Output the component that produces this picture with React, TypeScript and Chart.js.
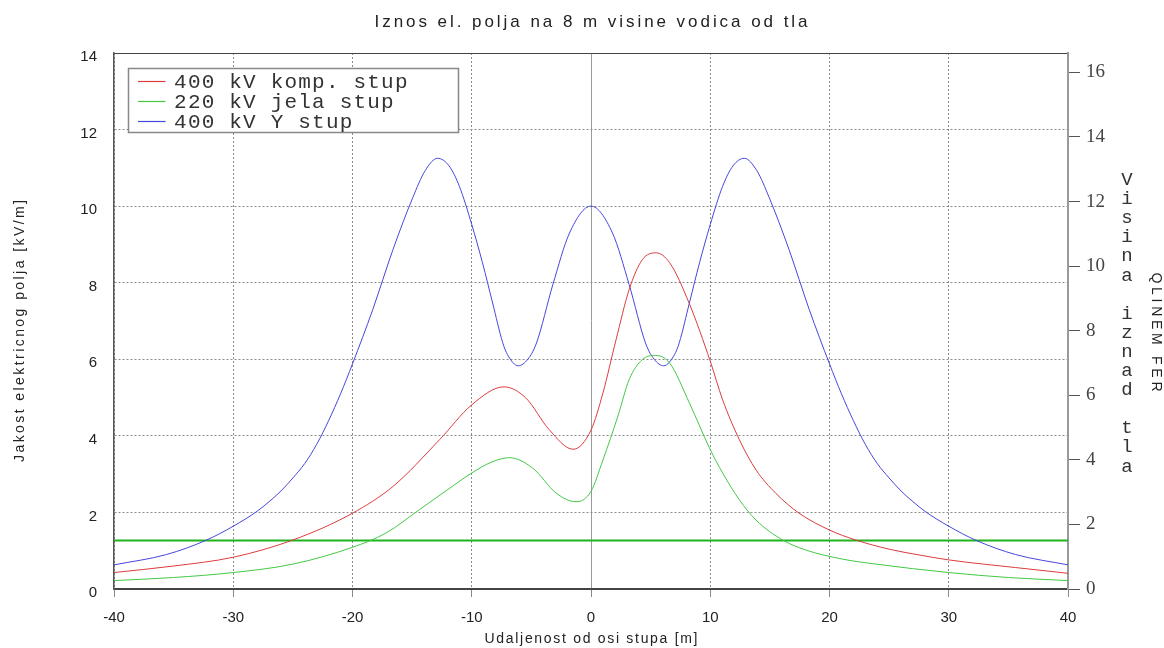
import { useEffect, useRef } from "react";
import { Chart, registerables } from "chart.js";

Chart.register(...registerables);

// ---------- texts ----------
const TITLE = "Iznos el. polja na 8 m visine vodica od tla";
const X_TITLE = "Udaljenost od osi stupa [m]";
const Y_TITLE = "Jakost elektricnog polja [kV/m]";
const Y2_TITLE = "Visina iznad tla";
const SIDE_NOTE = "QLINEM FER";
const SERIES_NAMES = ["400 kV komp. stup", "220 kV jela stup", "400 kV Y stup"];

// ---------- data ----------
// 400 kV komp. stup (red)
const redX = [-40, -35, -30, -25, -20, -16.6, -12.7, -10, -7.3, -5.5, -3.5, -1.5, 0, 1.0, 2.1, 3.2, 4.3, 5.46, 6.6, 8.25, 10, 11.04, 12.44, 13.84, 15.5, 17.45, 20, 22.2, 25, 27.5, 30, 35.6, 40];
const redY = [0.43, 0.6, 0.83, 1.28, 1.98, 2.68, 3.9, 4.81, 5.28, 5.0, 4.16, 3.65, 4.15, 5.12, 6.51, 7.82, 8.6, 8.78, 8.52, 7.45, 5.95, 4.94, 3.9, 3.11, 2.5, 1.98, 1.54, 1.28, 1.04, 0.89, 0.76, 0.56, 0.41];

// 220 kV jela stup (green)
const greenX = [-40, -35, -30, -25, -20, -17.2, -14.4, -12, -10, -8.3, -6.84, -4.9, -2.9, -1.25, 0, 1.0, 2.25, 3.2, 4.3, 5.4, 6.6, 8.25, 10, 11.04, 12.44, 13.84, 16.07, 18, 21.1, 23.9, 30, 35, 40];
const greenY = [0.22, 0.3, 0.43, 0.65, 1.09, 1.46, 2.07, 2.6, 3.03, 3.32, 3.43, 3.16, 2.5, 2.28, 2.55, 3.37, 4.51, 5.47, 5.99, 6.1, 5.9, 4.86, 3.64, 3.03, 2.33, 1.8, 1.28, 1.02, 0.78, 0.65, 0.43, 0.3, 0.22];

// 400 kV Y stup (blue)
const blueX = [-40, -35.6, -32.3, -30, -28, -27, -26, -25, -24, -23, -22, -21, -20, -18.3, -16.6, -14.95, -13.9, -12.86, -11.9, -11.04, -10, -9.1, -8.25, -7.4, -7.0, -6.1, -5.3, -4.6, -3.2, -1.8, 0, 1.8, 3.2, 4.6, 5.3, 6.1, 7.0, 7.4, 8.25, 9.1, 10, 11.04, 11.9, 12.86, 13.9, 14.95, 16.6, 18.3, 20, 21, 22, 23, 24, 25, 26, 27, 28, 30, 32.3, 35.6, 40];
const blueY = [0.63, 0.9, 1.27, 1.64, 2.03, 2.28, 2.56, 2.9, 3.28, 3.78, 4.4, 5.1, 5.88, 7.3, 8.87, 10.22, 10.93, 11.25, 11.05, 10.52, 9.52, 8.52, 7.47, 6.43, 6.12, 5.83, 6.0, 6.4, 7.95, 9.3, 10.0, 9.3, 7.95, 6.4, 6.0, 5.83, 6.12, 6.43, 7.47, 8.52, 9.52, 10.52, 11.05, 11.25, 10.93, 10.22, 8.87, 7.3, 5.88, 5.1, 4.4, 3.78, 3.28, 2.9, 2.56, 2.28, 2.03, 1.64, 1.27, 0.9, 0.63];

// reference height line (right axis, m)
const heightLineX = [-40, 40];
const heightLineY = [1.5, 1.5];

// axis ranges
const X_MIN = -40, X_MAX = 40, X_STEP = 10;
const Y_MIN = 0, Y_MAX = 14, Y_STEP = 2;
const Y2_MIN = 0, Y2_MAX = 16.6, Y2_STEP = 2;

const COLORS = ["#dc3c3c", "#44c844", "#4646dc"];

function pts(xs: number[], ys: number[]) {
  return xs.map((x, i) => ({ x, y: ys[i] }));
}

function drawSpaced(
  ctx: CanvasRenderingContext2D,
  text: string,
  cx: number,
  cy: number,
  width: number,
  font: string,
  color: string,
  angle: number
) {
  ctx.save();
  ctx.font = font;
  ctx.fillStyle = color;
  ctx.textBaseline = "middle";
  ctx.textAlign = "left";
  const chars = Array.from(text);
  const widths = chars.map((c) => ctx.measureText(c).width);
  const natural = widths.reduce((a, b) => a + b, 0);
  const gap = chars.length > 1 ? (width - natural) / (chars.length - 1) : 0;
  ctx.translate(cx, cy);
  ctx.rotate(angle);
  let x = -width / 2;
  chars.forEach((c, i) => {
    ctx.fillText(c, x, 0);
    x += widths[i] + gap;
  });
  ctx.restore();
}

const decorPlugin = {
  id: "decor",
  afterDraw(chart: any) {
    const ctx: CanvasRenderingContext2D = chart.ctx;
    const ca = chart.chartArea;
    const midX = (ca.left + ca.right) / 2;

    drawSpaced(ctx, TITLE, midX, 22, 433, '17px "Liberation Sans"', "#222", 0);
    drawSpaced(ctx, X_TITLE, midX, 639, 213, '14px "Liberation Sans"', "#222", 0);
    drawSpaced(ctx, Y_TITLE, 20, 331, 262, '14px "Liberation Sans"', "#222", -Math.PI / 2);
    drawSpaced(ctx, SIDE_NOTE, 1156, 332, 119, '14px "Liberation Sans"', "#222", Math.PI / 2);

    // right stacked axis title
    ctx.save();
    ctx.font = '19px "Liberation Mono"';
    ctx.fillStyle = "#333";
    ctx.textAlign = "center";
    ctx.textBaseline = "middle";
    Array.from(Y2_TITLE).forEach((c, i) => {
      if (c !== " ") ctx.fillText(c, 1127, 180 + i * 19.1);
    });
    ctx.restore();

    // legend
    const lx = ca.left + 14.5;
    const ly = ca.top + 15.5;
    ctx.save();
    ctx.fillStyle = "#fff";
    ctx.fillRect(lx, ly, 330, 64);
    ctx.strokeStyle = "#888";
    ctx.lineWidth = 1.5;
    ctx.strokeRect(lx, ly, 330, 64);
    ctx.restore();
    for (let i = 0; i < SERIES_NAMES.length; i++) {
      const y = Math.round(ly + 12.5 + i * 19.8) + 0.5;
      ctx.save();
      ctx.setLineDash([]);
      ctx.globalAlpha = 1;
      ctx.strokeStyle = COLORS[i];
      ctx.lineWidth = 1.2;
      ctx.beginPath();
      ctx.moveTo(lx + 9.5, y);
      ctx.lineTo(lx + 37, y);
      ctx.stroke();
      ctx.restore();

      ctx.save();
      ctx.font = '21px "Liberation Mono"';
      ctx.fillStyle = "#333";
      ctx.textBaseline = "middle";
      ctx.textAlign = "center";
      let x = lx + 45 + 6.9;
      Array.from(SERIES_NAMES[i]).forEach((c) => {
        ctx.fillText(c, x, y + 1);
        x += 13.8;
      });
      ctx.restore();
    }
  },
};

export default function App() {
  const ref = useRef<HTMLCanvasElement | null>(null);

  useEffect(() => {
    if (!ref.current) return;
    const tickVal = (c: any) => (c && c.tick ? c.tick.value : null);
    const line = (i: number, xs: number[], ys: number[]) => ({
      label: SERIES_NAMES[i],
      data: pts(xs, ys),
      borderColor: COLORS[i],
      borderWidth: 1,
      pointRadius: 0,
      cubicInterpolationMode: "monotone",
      yAxisID: "y",
      fill: false,
    });
    const chart = new Chart(ref.current, {
      type: "line",
      data: {
        datasets: [
          line(0, redX, redY),
          line(1, greenX, greenY),
          line(2, blueX, blueY),
          { label: "h", data: pts(heightLineX, heightLineY), borderColor: "#1fb41f", borderWidth: 2, pointRadius: 0, yAxisID: "y2", fill: false },
        ],
      } as any,
      options: {
        animation: false,
        responsive: false,
        maintainAspectRatio: false,
        layout: { padding: { top: 53, left: 0, right: 0, bottom: 0 } },
        plugins: { legend: { display: false }, title: { display: false }, tooltip: { enabled: false } },
        scales: {
          x: {
            type: "linear",
            min: X_MIN,
            max: X_MAX,
            ticks: { stepSize: X_STEP, color: "#222", padding: 12, maxRotation: 0, font: { family: "Liberation Sans", size: 15 } },
            grid: {
              color: (c: any) => (tickVal(c) === 0 ? "#9a9a9a" : "#8a8a8a"),
              lineWidth: 1,
              drawTicks: true,
              tickLength: 8,
              tickColor: "#888",
            },
            border: { display: true, color: "#444", width: 1.5, dash: (c: any) => (tickVal(c) === 0 ? [] : [2, 2]) },
            afterFit: (s: any) => {
              s.height = 59;
              s.paddingLeft = 0;
              s.paddingRight = 0;
            },
          },
          y: {
            type: "linear",
            position: "left",
            min: Y_MIN,
            max: Y_MAX,
            ticks: { stepSize: Y_STEP, color: "#222", padding: 17, labelOffset: 4, font: { family: "Liberation Sans", size: 15 } },
            grid: {
              color: (c: any) => (tickVal(c) === Y_MAX || tickVal(c) === 0 ? "#444" : "#8a8a8a"),
              lineWidth: 1,
              drawTicks: false,
            },
            border: { display: true, color: "#555", width: 1.5, dash: (c: any) => (tickVal(c) === Y_MAX || tickVal(c) === 0 ? [] : [2, 2]) },
            afterFit: (s: any) => {
              s.width = 114;
              s.paddingTop = 0;
              s.paddingBottom = 0;
            },
          },
          y2: {
            type: "linear",
            position: "right",
            min: Y2_MIN,
            max: Y2_MAX,
            ticks: { stepSize: Y2_STEP, includeBounds: false, color: "#444", padding: 6, font: { family: "Liberation Serif", size: 19 } },
            grid: { drawOnChartArea: false, drawTicks: true, tickLength: 12, tickColor: "#555", tickWidth: 1 },
            border: { display: true, color: "#999", width: 2 },
            afterFit: (s: any) => {
              s.width = 96;
              s.paddingTop = 0;
              s.paddingBottom = 0;
            },
          },
        },
      } as any,
      plugins: [decorPlugin],
    });
    return () => chart.destroy();
  }, []);

  return (
    <div style={{ position: "absolute", left: 0, top: 0, width: 1164, height: 648, background: "#fff" }}>
      <canvas ref={ref} width={1164} height={648} style={{ display: "block" }} />
    </div>
  );
}
